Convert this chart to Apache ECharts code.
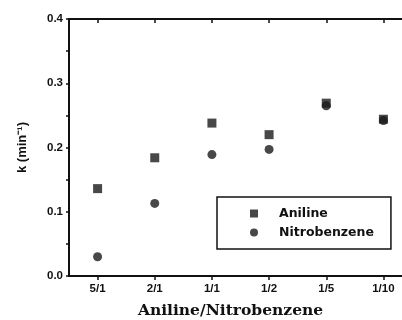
<!DOCTYPE html>
<html><head><meta charset="utf-8">
<script src="https://cdn.jsdelivr.net/npm/echarts@6/dist/echarts.min.js"></script>
<style>html,body{margin:0;padding:0;background:#fff}#c{width:402px;height:320px}</style>
</head><body><div id="c"></div>
<script>
var categories = ['5/1','2/1','1/1','1/2','1/5','1/10'];
var aniline = [0.136, 0.184, 0.238, 0.220, 0.269, 0.244];
var nitrobenzene = [0.030, 0.113, 0.189, 0.197, 0.265, 0.242];
var yTicks = [0.0, 0.1, 0.2, 0.3, 0.4];

var chart = echarts.init(document.getElementById('c'));
var lblFont = {fontFamily:'Liberation Sans, Arial', fontWeight:'bold', fontSize:11.5, color:'#111'};
chart.setOption({
  animation:false,
  grid:{left:69, top:19, width:343, height:257, outerBoundsMode:'none', containLabel:false},
  xAxis:[{
    type:'category', data:categories, boundaryGap:true, position:'bottom',
    name:'Aniline/Nitrobenzene', nameLocation:'middle', nameGap:27,
    nameTextStyle:{fontFamily:'DejaVu Serif', fontWeight:'bold', fontSize:15.5, color:'#111', padding:[0,20,0,0]},
    axisLine:{lineStyle:{color:'#111', width:2}},
    axisTick:{show:true, alignWithLabel:true, length:4, inside:false, lineStyle:{color:'#111', width:1.5}},
    minorTick:{show:false},
    axisLabel:Object.assign({margin:7}, lblFont),
    splitLine:{show:false}
  },{
    type:'category', data:categories, boundaryGap:true, position:'top',
    axisLine:{lineStyle:{color:'#111', width:2}},
    axisTick:{show:true, alignWithLabel:true, length:4, inside:true, lineStyle:{color:'#111', width:1.5}},
    axisLabel:{show:false}, splitLine:{show:false}
  }],
  yAxis:{
    type:'value', min:0, max:0.4, interval:0.1,
    name:'k (min\u207B\u00B9)', nameLocation:'middle', nameGap:40,
    nameTextStyle:{fontFamily:'Liberation Sans, Arial', fontWeight:'bold', fontSize:13, color:'#111'},
    axisLine:{show:true, lineStyle:{color:'#111', width:2}},
    axisTick:{show:true, length:3, lineStyle:{color:'#111', width:1.5}},
    minorTick:{show:true, splitNumber:2, length:3, lineStyle:{color:'#111', width:1.5}},
    axisLabel:Object.assign({margin:6, formatter:function(v){
      for (var i=0;i<yTicks.length;i++){ if (Math.abs(yTicks[i]-v)<1e-9) return yTicks[i].toFixed(1); }
      return '';
    }}, lblFont),
    splitLine:{show:false}
  },
  legend:{
    left:217, top:197, orient:'vertical',
    padding:[10,17,10,33], itemGap:6, itemWidth:8, itemHeight:8,
    borderColor:'#111', borderWidth:1.5,
    textStyle:{fontFamily:'DejaVu Sans', fontWeight:'bold', fontSize:12.5, color:'#111', padding:[0,0,0,16]},
    data:[{name:'Aniline', icon:'rect'},{name:'Nitrobenzene', icon:'circle'}]
  },
  series:[
    {name:'Aniline', type:'scatter', symbol:'rect', symbolSize:9, data:aniline, itemStyle:{color:'#1a1a1a'}},
    {name:'Nitrobenzene', type:'scatter', symbol:'circle', symbolSize:9, data:nitrobenzene, itemStyle:{color:'#1a1a1a'}}
  ]
});
</script></body></html>
